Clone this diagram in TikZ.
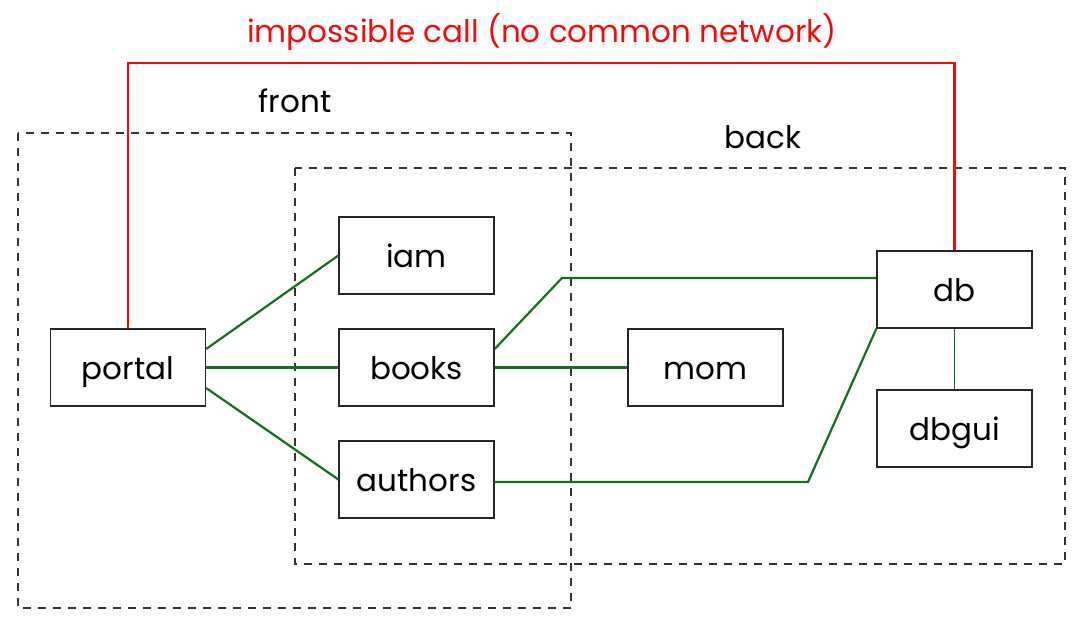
\documentclass[tikz,border=0pt]{standalone}
\usepackage{fontspec}
\setmainfont{Poppins}
\definecolor{lnkgreen}{RGB}{20,110,30}
\definecolor{callred}{RGB}{245,10,10}
\begin{document}
\begin{tikzpicture}[x=1pt,y=-1pt,
  svc/.style={draw=black!85,line width=1.3pt,minimum width=155pt,minimum height=77pt,inner sep=0pt,text height=24pt,text depth=0pt,font=\fontsize{31}{36}\selectfont},
  net/.style={draw=black!80,line width=1.1pt,dash pattern=on 8pt off 7pt},
  lnk/.style={draw=lnkgreen,line width=2.2pt},
  thin/.style={draw=lnkgreen,line width=1pt},
  call/.style={draw=callred,line width=2.2pt},
  lbl/.style={font=\fontsize{31}{36}\selectfont,inner sep=0pt,text height=23pt,text depth=0pt}]
\useasboundingbox (0,0) rectangle (1084,627);
\draw[net] (18,133) rectangle (571,608);
\draw[net] (295,168) rectangle (1065,564);
\node[lbl] (frontlbl) at (295,101) {front};
\node[lbl] (backlbl) at (763,137) {back};
\node[lbl,text=callred] (calllbl) at (542,31) {impossible call (no common network)};
\node[svc] (portal) at (128,367.5) {portal};
\node[svc] (iam) at (416.5,255.5) {iam};
\node[svc] (books) at (416.5,367.5) {books};
\node[svc] (authors) at (416.5,479.5) {authors};
\node[svc] (mom) at (705.5,367.5) {mom};
\node[svc] (db) at (954.5,289.5) {db};
\node[svc] (dbgui) at (954.5,428.5) {dbgui};
\coordinate (c1) at (128,63);
\coordinate (c2) at (954.5,63);
\draw[call] (portal.north) -- (c1) -- (c2) -- (db.north);
\coordinate (k1) at (562,278);
\coordinate (k2) at (808,482);
\draw[lnk] (portal.east |- 0,349) -- (iam.west);
\draw[lnk] (portal.east) -- (books.west);
\draw[lnk] (portal.east |- 0,388) -- (authors.west);
\draw[lnk] (books.east |- 0,349) -- (k1) -- (db.west |- k1);
\draw[lnk] (books.east) -- (mom.west);
\draw[lnk] (authors.east |- k2) -- (k2) -- (db.south west);
\draw[thin] (db.south) -- (dbgui.north);
\end{tikzpicture}
\end{document}
